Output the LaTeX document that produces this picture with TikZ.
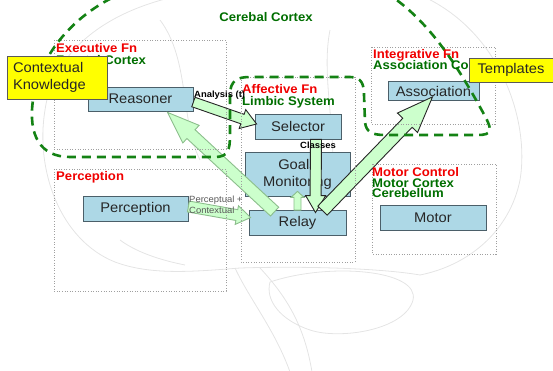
\documentclass[tikz,border=0pt]{standalone}
\usepackage{fontspec}
\setmainfont{Liberation Sans}[FakeStretch=1.05]
\usetikzlibrary{calc}
\definecolor{nodeblue}{RGB}{173,216,230}
\definecolor{nodeedge}{RGB}{75,95,105}
\definecolor{arrowfill}{RGB}{204,255,204}
\definecolor{arrowlight}{RGB}{140,190,140}
\definecolor{lblred}{RGB}{240,0,0}
\definecolor{lblgreen}{RGB}{0,110,0}
\definecolor{dashgreen}{RGB}{20,130,20}
\definecolor{ctxyellow}{RGB}{255,255,0}
\definecolor{brainline}{RGB}{228,228,228}
\newcommand\blockarr[6]{%
  \coordinate (bneck) at ($(#3)!#6!(#2)$);
  \draw[#1] ($(#2)!#4!90:(#3)$) -- ($(bneck)!#4!90:(#3)$) -- ($(bneck)!#5!90:(#3)$)
    -- (#3) -- ($(bneck)!#5!-90:(#3)$) -- ($(bneck)!#4!-90:(#3)$) -- ($(#2)!#4!-90:(#3)$) -- cycle;
}
\begin{document}
\begin{tikzpicture}[x=1pt,y=-1pt,
  bluebox/.style={draw=nodeedge, fill=nodeblue, line width=0.8pt, inner sep=0pt,
    font=\fontsize{14}{17}\selectfont, text=black!85, align=center},
  yellowbox/.style={draw=gray!70!black, fill=ctxyellow, line width=0.8pt,
    font=\fontsize{14}{17}\selectfont, text=black!85},
  darkarr/.style={fill=arrowfill, draw=black!85, line width=0.9pt, line join=miter},
  lightarr/.style={fill=arrowfill, draw=arrowlight, line width=0.9pt, line join=miter},
  region/.style={draw=gray!75, line width=0.7pt, dash pattern=on 1pt off 1.6pt},
  cortex/.style={draw=dashgreen, line width=2.6pt, dash pattern=on 9pt off 6pt},
  redlbl/.style={font=\bfseries\fontsize{12.5}{11}\selectfont, inner sep=0pt, anchor=base west, text=lblred},
  grnlbl/.style={font=\bfseries\fontsize{12.5}{11}\selectfont, inner sep=0pt, anchor=base west, text=lblgreen},
  arrlbl/.style={font=\bfseries\fontsize{9}{10}\selectfont, inner sep=0pt, anchor=base west, text=black},
  brain/.style={draw=brainline, line width=0.8pt}
]
\useasboundingbox (0,0) rectangle (553,370);
\clip (0,0) rectangle (553,370);

% faint brain sketch
\draw[brain] (115,262) .. controls (60,240) and (35,170) .. (45,110)
  .. controls (55,40) and (130,-10) .. (250,-12);
\draw[brain] (420,-5) .. controls (500,30) and (530,120) .. (520,180)
  .. controls (510,230) and (470,265) .. (420,275);
\draw[brain] (420,275) .. controls (380,268) and (300,266) .. (240,268)
  .. controls (190,272) and (150,275) .. (115,262);
\draw[brain] (270,282) .. controls (330,262) and (420,270) .. (413,300)
  .. controls (405,330) and (340,340) .. (310,330) .. controls (280,320) and (265,300) .. (270,282);
\draw[brain] (235,268) .. controls (250,300) and (275,330) .. (290,372);
\draw[brain] (260,268) .. controls (290,300) and (305,330) .. (312,372);
\draw[brain] (120,240) .. controls (140,255) and (170,262) .. (185,265);
\draw[brain] (330,30) .. controls (320,80) and (340,140) .. (330,200);
\draw[brain] (160,20) .. controls (190,60) and (180,120) .. (200,160);

% blue nodes
\node[bluebox, minimum width=105pt, minimum height=24pt] (reasoner) at (140.5,99) {Reasoner};
\node[bluebox, minimum width=86pt, minimum height=25pt] (selector) at (298,126.5) {Selector};
\node[bluebox, minimum width=105pt, minimum height=44pt] (goals) at (297.5,174) {Goals\\Monitoring};
\node[bluebox, minimum width=97pt, minimum height=25pt] (relay) at (297.5,222.5) {Relay};
\node[bluebox, minimum width=105pt, minimum height=25pt] (perception) at (135.5,208.5) {Perception};
\node[bluebox, minimum width=91pt, minimum height=19pt] (association) at (433.5,91) {Association};
\node[bluebox, minimum width=106pt, minimum height=25pt] (motor) at (433,217.5) {Motor};

% arrow end points
\coordinate (a1s) at ($(reasoner.east)+(0,3)$);
\coordinate (a1e) at ($(selector.west)+(2,-2.5)$);
\coordinate (a2s) at ($(relay.north west)+(26,2)$);
\coordinate (a2e) at ($(reasoner.south)+(27,1)$);
\coordinate (a3s) at ($(selector.south)+(18,0)$);
\coordinate (a3e) at ($(relay.north)+(18,3)$);
\coordinate (a4s) at ($(relay.north)+(25,1)$);
\coordinate (a4e) at ($(association.south)+(-1,-4)$);
\coordinate (a5s) at ($(perception.east)+(0,-2)$);
\coordinate (a5e) at ($(relay.west)+(2,-5)$);
\coordinate (a6s) at ($(relay.north)+(0,0.5)$);
\coordinate (a6e) at ($(goals.south)+(0,-5)$);

% block arrows
\blockarr{lightarr}{a2s}{a2e}{6pt}{12pt}{32pt}
\blockarr{darkarr}{a1s}{a1e}{5pt}{10pt}{15pt}
\blockarr{darkarr}{a3s}{a3e}{5.5pt}{10pt}{17pt}
\blockarr{darkarr}{a4s}{a4e}{6.5pt}{14pt}{36pt}
\blockarr{lightarr}{a5s}{a5e}{5.5pt}{9.5pt}{14pt}
\blockarr{lightarr}{a6s}{a6e}{3.5pt}{6.5pt}{6pt}

% region boxes
\draw[region] (54,40) rectangle (226,149);
\draw[region] (54,169) rectangle (226,291);
\draw[region] (241,77) rectangle (355,262);
\draw[region] (371,47) rectangle (495,124);
\draw[region] (372,164) rectangle (496,254);

% cerebral cortex outline
\draw[cortex] (125,-8) .. controls (80,10) and (40,50) .. (33,100)
  .. controls (28,135) and (40,157) .. (70,157) -- (215,157)
  .. controls (228,157) and (230,150) .. (230,135) -- (230,95)
  .. controls (230,80) and (238,77) .. (250,77) -- (350,77)
  .. controls (362,77) and (364,85) .. (364,95) -- (365,122)
  .. controls (366,132) and (372,135) .. (385,135) -- (478,135)
  .. controls (492,135) and (492,130) .. (486,118)
  .. controls (460,70) and (430,20) .. (385,-8);

% labels
\node[grnlbl, anchor=base] (cortexlbl) at (266,21) {Cerebal Cortex};
\node[redlbl] (exec1) at (56,52) {Executive Fn};
\node[grnlbl] (exec2) at (56,64) {Frontal Cortex};
\node[redlbl] (aff1) at (242,93) {Affective Fn};
\node[grnlbl] (aff2) at (242,105) {Limbic System};
\node[redlbl] (int1) at (373,58) {Integrative Fn};
\node[grnlbl] (int2) at (373,69) {Association Cortex};
\node[redlbl] (mot1) at (372,176) {Motor Control};
\node[grnlbl] (mot2) at (372,187) {Motor Cortex};
\node[grnlbl] (mot3) at (372,197) {Cerebellum};
\node[redlbl] (per1) at (56,180) {Perception};
\node[arrlbl] (analysis) at (194,97) {Analysis (t)};
\node[arrlbl] (classes) at (300,148) {Classes};
\node[arrlbl, font=\fontsize{9}{11}\selectfont, text=black!65, align=left, anchor=north west] (perclbl) at (189,195.5) {Perceptual +\\Contextual};

% yellow boxes
\node[yellowbox, minimum width=100pt, minimum height=43pt, text width=88pt, inner xsep=6pt, inner ysep=0pt, align=left] (context) at (57,77.5) {Contextual\\Knowledge};
\node[yellowbox, minimum width=84pt, minimum height=24pt, inner sep=0pt] (templates) at (511,70) {Templates};
\end{tikzpicture}
\end{document}
